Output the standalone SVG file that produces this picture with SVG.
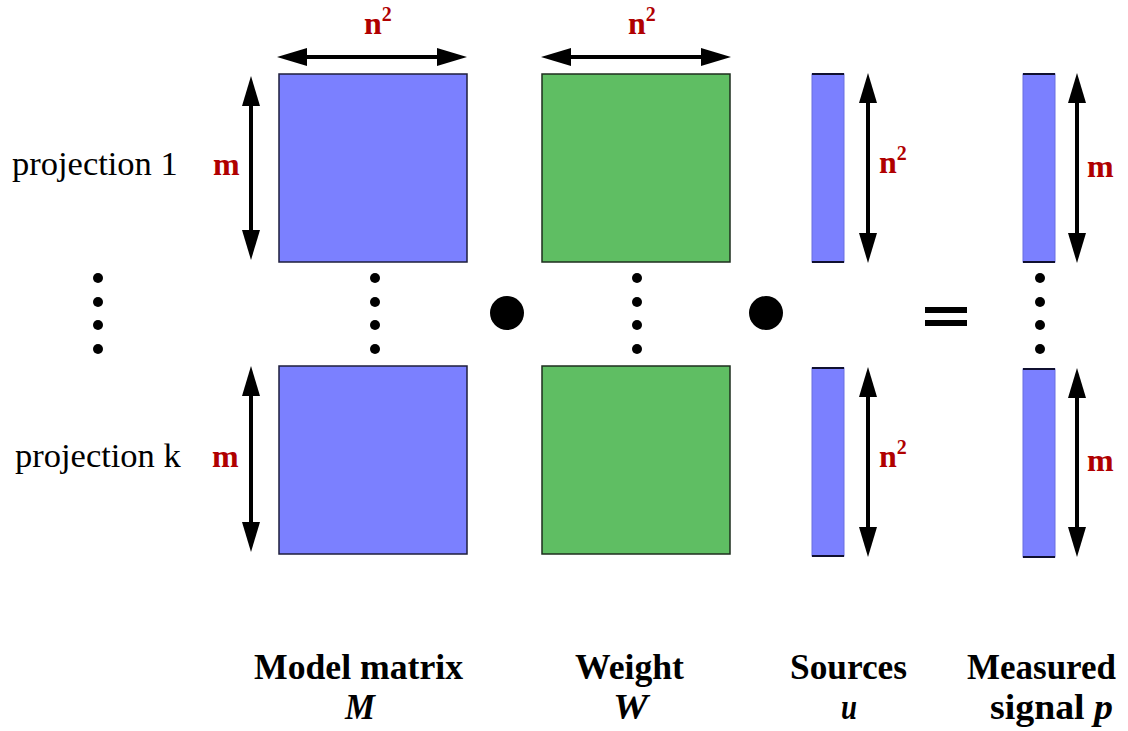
<svg xmlns="http://www.w3.org/2000/svg" width="1128" height="731" viewBox="0 0 1128 731">
<style>
.blue{fill:#7b80ff;stroke:#1e1e3c;stroke-width:1.5}
.green{fill:#5fbe63;stroke:#1e2e1e;stroke-width:1.5}
.bar{fill:#7b80ff;stroke:#6a6ee0;stroke-width:1}
.edge{stroke:#101030;stroke-width:2}
.arr{stroke:#000;stroke-width:4;fill:none;marker-start:url(#ah);marker-end:url(#ah)}
.dim{font-family:"Liberation Serif","Times New Roman",serif;font-weight:bold;font-size:32px;fill:#b00000}
.sup{font-size:20px}
.proj{font-family:"Liberation Serif","Times New Roman",serif;font-size:34.5px;fill:#000}
.lab{font-family:"Liberation Serif","Times New Roman",serif;font-weight:bold;font-size:36px;fill:#000}
.it{font-style:italic}
.dot{fill:#000}
</style>
<defs>
<marker id="ah" viewBox="0 0 30 18" refX="10" refY="9" markerWidth="30" markerHeight="18" markerUnits="userSpaceOnUse" orient="auto-start-reverse">
<path d="M0,0 L30,9 L0,18 Z" fill="#000"/>
</marker>
</defs>

<g id="matrix-M-top"><rect class="blue" x="279" y="74" width="188" height="188"/></g>
<g id="matrix-M-bottom"><rect class="blue" x="279" y="366" width="188" height="188"/></g>
<g id="matrix-W-top"><rect class="green" x="542" y="74" width="188" height="188"/></g>
<g id="matrix-W-bottom"><rect class="green" x="542" y="366" width="188" height="188"/></g>
<g id="sources-top"><rect class="bar" x="812" y="74" width="32" height="188"/><line class="edge" x1="812" y1="74" x2="844" y2="74"/><line class="edge" x1="812" y1="262" x2="844" y2="262"/></g>
<g id="sources-bottom"><rect class="bar" x="812" y="368" width="32" height="188"/><line class="edge" x1="812" y1="368" x2="844" y2="368"/><line class="edge" x1="812" y1="556" x2="844" y2="556"/></g>
<g id="signal-top"><rect class="bar" x="1023" y="74" width="32" height="188"/><line class="edge" x1="1023" y1="74" x2="1055" y2="74"/><line class="edge" x1="1023" y1="262" x2="1055" y2="262"/></g>
<g id="signal-bottom"><rect class="bar" x="1023" y="369" width="32" height="188"/><line class="edge" x1="1023" y1="369" x2="1055" y2="369"/><line class="edge" x1="1023" y1="557" x2="1055" y2="557"/></g>

<g id="connectors">
<line class="arr" x1="297" y1="57" x2="447" y2="57"/>
<line class="arr" x1="561" y1="57" x2="711" y2="57"/>
<line class="arr" x1="251" y1="96" x2="251" y2="240"/>
<line class="arr" x1="251" y1="386" x2="251" y2="532"/>
<line class="arr" x1="868" y1="93" x2="868" y2="243"/>
<line class="arr" x1="868" y1="387" x2="868" y2="537"/>
<line class="arr" x1="1077" y1="93" x2="1077" y2="243"/>
<line class="arr" x1="1077" y1="388" x2="1077" y2="537"/>
</g>

<g id="dim-labels">
<text class="dim" x="364" y="34">n<tspan class="sup" dy="-13">2</tspan></text>
<text class="dim" x="628" y="34">n<tspan class="sup" dy="-13">2</tspan></text>
<text class="dim" x="213" y="175">m</text>
<text class="dim" x="212" y="467">m</text>
<text class="dim" x="879" y="173">n<tspan class="sup" dy="-13">2</tspan></text>
<text class="dim" x="879" y="467">n<tspan class="sup" dy="-13">2</tspan></text>
<text class="dim" x="1087" y="177">m</text>
<text class="dim" x="1087" y="471">m</text>
</g>

<g id="projection-labels">
<text class="proj" x="12" y="175">projection 1</text>
<text class="proj" x="15" y="467">projection k</text>
</g>

<g id="ellipses">
<circle class="dot" cx="98" cy="278" r="5"/><circle class="dot" cx="98" cy="302" r="5"/><circle class="dot" cx="98" cy="325" r="5"/><circle class="dot" cx="98" cy="349" r="5"/>
<circle class="dot" cx="375" cy="278" r="5"/><circle class="dot" cx="375" cy="302" r="5"/><circle class="dot" cx="375" cy="325" r="5"/><circle class="dot" cx="375" cy="349" r="5"/>
<circle class="dot" cx="637" cy="278" r="5"/><circle class="dot" cx="637" cy="302" r="5"/><circle class="dot" cx="637" cy="325" r="5"/><circle class="dot" cx="637" cy="349" r="5"/>
<circle class="dot" cx="1040" cy="278" r="5"/><circle class="dot" cx="1040" cy="302" r="5"/><circle class="dot" cx="1040" cy="325" r="5"/><circle class="dot" cx="1040" cy="349" r="5"/>
</g>

<g id="operators">
<circle class="dot" cx="507" cy="313" r="17"/>
<circle class="dot" cx="766" cy="313" r="17"/>
<rect x="925" y="307" width="42" height="6" fill="#000"/>
<rect x="925" y="320" width="42" height="6" fill="#000"/>
</g>

<g id="bottom-labels">
<text class="lab" x="254" y="679" textLength="209" lengthAdjust="spacingAndGlyphs">Model matrix</text>
<text class="lab it" x="345" y="719" textLength="30" lengthAdjust="spacingAndGlyphs">M</text>
<text class="lab" x="575" y="679" textLength="109" lengthAdjust="spacingAndGlyphs">Weight</text>
<text class="lab it" x="613" y="719" textLength="35" lengthAdjust="spacingAndGlyphs">W</text>
<text class="lab" x="790" y="679" textLength="117" lengthAdjust="spacingAndGlyphs">Sources</text>
<text class="lab it" x="841" y="719" textLength="16" lengthAdjust="spacingAndGlyphs">u</text>
<text class="lab" x="967" y="679" textLength="149" lengthAdjust="spacingAndGlyphs">Measured</text>
<text class="lab" x="990" y="719" textLength="123" lengthAdjust="spacingAndGlyphs">signal <tspan class="it">p</tspan></text>
</g>
</svg>
